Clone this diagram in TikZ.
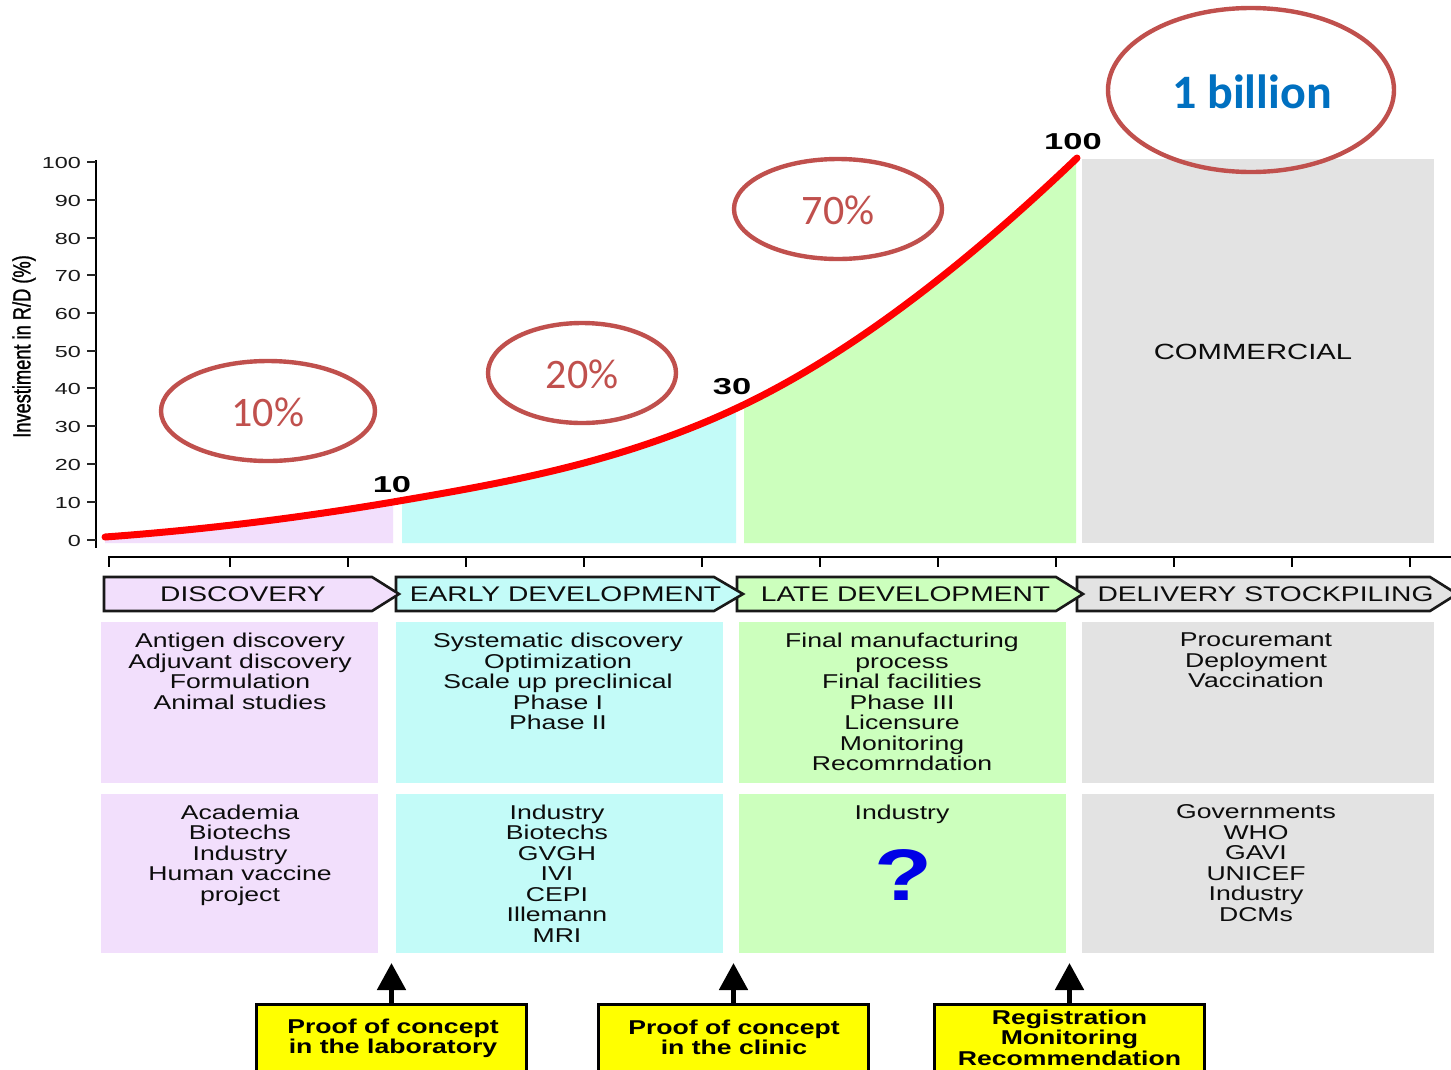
\documentclass[tikz,border=0pt]{standalone}
\usepackage{fontspec}
\usetikzlibrary{arrows.meta,shapes.geometric}
\setmainfont{Liberation Sans}
\newfontfamily\widefont[FakeStretch=1.33]{Liberation Sans}
\newfontfamily\tickfont[FakeStretch=1.46]{Liberation Sans}
\newfontfamily\ylabfont[FakeStretch=0.73,FakeBold=1]{Liberation Sans}
\newfontfamily\valfont[FakeStretch=1.5]{Liberation Sans}
\newfontfamily\qfont[FakeStretch=1.3]{Liberation Sans}
\newfontfamily\calloutfont{Carlito}
\definecolor{cpurple}{HTML}{F2DFFC}
\definecolor{ccyan}{HTML}{C3FBF8}
\definecolor{cgreen}{HTML}{CCFFBD}
\definecolor{cgray}{HTML}{E3E3E3}
\definecolor{cring}{HTML}{C0504D}
\definecolor{cblue}{HTML}{0070C0}
\definecolor{cyellow}{HTML}{FFFF00}
\definecolor{cred}{HTML}{FF0000}
\definecolor{cqm}{HTML}{0000E6}
\def\curvepath{(105,537) .. controls (201,530) and (297,518.3) .. (393,502) .. controls (508,482.4) and (622,462) .. (737,408) .. controls (850,355) and (965,265) .. (1077,158)}
\tikzset{
  x=1pt,y=-1pt,
  panel/.style={inner sep=0,minimum width=#1,draw=none},
  bodytext/.style={anchor=north,inner sep=0,align=center,text=black!95,font=\widefont\fontsize{20}{20.5}\selectfont},
  phasetext/.style={inner sep=0,text=black!95,font=\widefont\fontsize{21.2}{24}\selectfont},
  phasebox/.style={draw=black!90,line width=2.6pt,line join=miter},
  ticklab/.style={anchor=east,inner sep=0,text=black!90,font=\tickfont\fontsize{16}{16}\selectfont},
  vallab/.style={inner sep=0,font=\valfont\bfseries\fontsize{23}{24}\selectfont},
  ring/.style={ellipse,draw=cring,line width=4.4pt,fill=none,inner sep=0},
  ringtext/.style={inner sep=0,text=cring,font=\calloutfont\fontsize{42}{44}\selectfont},
  yellowbox/.style={draw=black,line width=3pt,fill=cyellow,minimum width=270,minimum height=96,inner sep=0},
  yellowtext/.style={anchor=north,inner sep=0,align=center,font=\widefont\bfseries\fontsize{20}{20.5}\selectfont},
  uparrow/.style={draw=black,line width=5pt,-{Triangle[length=27pt,width=28pt]}},
  axisline/.style={draw=black,line width=1.6pt}
}
\begin{document}
\begin{tikzpicture}
\clip (0,0) rectangle (1451,1069);
\fill[white] (0,0) rectangle (1451,1069);

% areas under the curve
\begin{scope}\clip (105,300) rectangle (393,543);
\fill[cpurple] \curvepath -- (1077,543) -- (105,543) -- cycle;
\end{scope}
\begin{scope}\clip (402,300) rectangle (736,543);
\fill[ccyan] \curvepath -- (1077,543) -- (105,543) -- cycle;
\end{scope}
\begin{scope}\clip (744,100) rectangle (1076,543);
\fill[cgreen] \curvepath -- (1077,543) -- (105,543) -- cycle;
\end{scope}
\node[panel=352,fill=cgray,minimum height=384] (comm) at (1258,351) {};
\node[inner sep=0,text=black!95,font=\widefont\fontsize{22}{24}\selectfont] (commt) at (1253,351.5) {COMMERCIAL};

% y axis
\draw[axisline,line width=2pt] (96,160) -- (96,548);
\foreach \v/\yy in {0/540,10/502,20/464,30/426,40/388,50/351,60/313,70/275,80/238,90/200,100/162}{
  \draw[black!85,line width=1.3pt] (87,\yy) -- (96,\yy);
  \node[ticklab] (tick\v) at (81,\yy+0.7) {\v};
}
\node[rotate=90,inner sep=0,text=black,font=\ylabfont\fontsize{25}{26}\selectfont] (ylab) at (24,346.5) {Investiment in R/D (\%)};

% curve
\draw[cred,line width=7pt,line cap=round] \curvepath;
\node[vallab] (v10) at (392,485) {10};
\node[vallab] (v30) at (732,387) {30};
\node[vallab] (v100) at (1073,142) {100};

% x axis
\draw[axisline] (108,557) -- (1451,557);
\foreach \xx in {109,230,348,466,584,702,820,938,1056,1174,1292,1410}{
  \draw[black,line width=1.6pt] (\xx,557) -- (\xx,567);
}

% phase arrows, last one first so that each tip lies over the next box
\draw[phasebox,fill=cgray] (1077,577) -- (1430,577) -- (1457,594) -- (1430,611) -- (1077,611) -- cycle;
\draw[phasebox,fill=cgreen] (737,577) -- (1056,577) -- (1083,594) -- (1056,611) -- (737,611) -- cycle;
\draw[phasebox,fill=ccyan] (396,577) -- (714,577) -- (743,594) -- (714,611) -- (396,611) -- cycle;
\draw[phasebox,fill=cpurple] (104,577) -- (372,577) -- (399,594) -- (372,611) -- (104,611) -- cycle;
\node[phasetext] (ph1) at (243,594.5) {DISCOVERY};
\node[phasetext] (ph2) at (565.5,594.5) {EARLY DEVELOPMENT};
\node[phasetext] (ph3) at (905.5,594.5) {LATE DEVELOPMENT};
\node[phasetext] (ph4) at (1265.5,594.5) {DELIVERY STOCKPILING};

% panels, upper row
\node[panel=277,fill=cpurple,minimum height=161] (a1) at (239.5,702.5) {};
\node[panel=327,fill=ccyan,minimum height=161] (a2) at (559.5,702.5) {};
\node[panel=327,fill=cgreen,minimum height=161] (a3) at (902.5,702.5) {};
\node[panel=352,fill=cgray,minimum height=161] (a4) at (1258,702.5) {};
\node[bodytext] (ta1) at (240,633) {Antigen discovery\\Adjuvant discovery\\Formulation\\Animal studies};
\node[bodytext] (ta2) at (558,633) {Systematic discovery\\Optimization\\Scale up preclinical\\Phase I\\Phase II};
\node[bodytext] (ta3) at (902,633) {Final manufacturing\\process\\Final facilities\\Phase III\\Licensure\\Monitoring\\Recomrndation};
\node[bodytext] (ta4) at (1256,633) {Procuremant\\Deployment\\Vaccination};

% panels, lower row
\node[panel=277,fill=cpurple,minimum height=159] (b1) at (239.5,873.5) {};
\node[panel=327,fill=ccyan,minimum height=159] (b2) at (559.5,873.5) {};
\node[panel=327,fill=cgreen,minimum height=159] (b3) at (902.5,873.5) {};
\node[panel=352,fill=cgray,minimum height=159] (b4) at (1258,873.5) {};
\node[bodytext] (tb1) at (240,804.5) {Academia\\Biotechs\\Industry\\Human vaccine\\project};
\node[bodytext] (tb2) at (557,804.5) {Industry\\Biotechs\\GVGH\\IVI\\CEPI\\Illemann\\MRI};
\node[bodytext] (tb3) at (902,804.5) {Industry};
\node[bodytext] (tb4) at (1256,804.5) {Governments\\WHO\\GAVI\\UNICEF\\Industry\\DCMs};
\node[inner sep=0,text=cqm,font=\qfont\bfseries\fontsize{73}{74}\selectfont] (qm) at (903,875) {?};

% yellow boxes and arrows
\node[yellowbox] (y1) at (391.5,1052) {};
\node[yellowbox] (y2) at (733.5,1052) {};
\node[yellowbox] (y3) at (1069.5,1052) {};
\coordinate (t1) at (391.5,963);
\coordinate (t2) at (733.5,963);
\coordinate (t3) at (1069.5,963);
\draw[uparrow] (y1.north) -- (t1);
\draw[uparrow] (y2.north) -- (t2);
\draw[uparrow] (y3.north) -- (t3);
\node[yellowtext] (ty1) at (393,1018.5) {Proof of concept\\in the laboratory};
\node[yellowtext] (ty2) at (734,1019.5) {Proof of concept\\in the clinic};
\node[yellowtext] (ty3) at (1069.5,1009.5) {Registration\\Monitoring\\Recommendation};

% callouts
\node[ring,minimum width=214,minimum height=100] (r1) at (268,411) {};
\node[ringtext] (rt1) at (268,412) {10\%};
\node[ring,minimum width=188,minimum height=100] (r2) at (582,373) {};
\node[ringtext] (rt2) at (582,374) {20\%};
\node[ring,minimum width=208,minimum height=100] (r3) at (838,209) {};
\node[ringtext] (rt3) at (838,210) {70\%};
\node[ring,minimum width=286,minimum height=164] (r4) at (1251,90) {};
\node[inner sep=0,text=cblue,font=\calloutfont\bfseries\fontsize{48}{50}\selectfont] (rt4) at (1252,92) {1 billion};
\end{tikzpicture}
\end{document}
